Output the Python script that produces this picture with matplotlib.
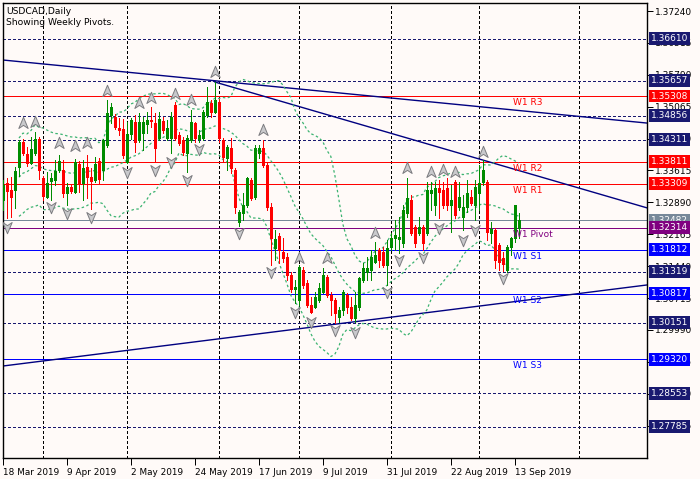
import numpy as np
import pandas as pd
import matplotlib
matplotlib.use("Agg")
import matplotlib.pyplot as plt
from matplotlib.path import Path

# ---------------- data (USDCAD daily) ----------------
opens = [1.32944, 1.33330, 1.33171, 1.33171, 1.33694, 1.34262, 1.33990, 1.33785, 1.34012, 1.34331,
         1.33444, 1.33012, 1.33376, 1.33399, 1.33626, 1.33626, 1.33103, 1.33240, 1.33126, 1.33762,
         1.33330, 1.33694, 1.33467, 1.33399, 1.33831, 1.33626, 1.34194, 1.34876, 1.34831, 1.34581,
         1.34558, 1.33808, 1.34444, 1.34717, 1.34308, 1.34467, 1.34672, 1.34762, 1.34694, 1.34353,
         1.34740, 1.34353, 1.34353, 1.35104, 1.34421, 1.34308, 1.34012, 1.34308, 1.34694, 1.34331,
         1.34353, 1.34876, 1.35149, 1.34944, 1.35172, 1.34308, 1.33899, 1.34126, 1.33626, 1.32444,
         1.32649, 1.32830, 1.33399, 1.33012, 1.34012, 1.34126, 1.33740, 1.32785, 1.31853, 1.32126,
         1.31762, 1.31648, 1.31239, 1.30921, 1.30671, 1.31353, 1.31057, 1.30557, 1.30512, 1.30671,
         1.30853, 1.31194, 1.30785, 1.30671, 1.30285, 1.30444, 1.30785, 1.30512, 1.30262, 1.30512,
         1.31126, 1.31307, 1.31353, 1.31535, 1.31808, 1.31762, 1.31467, 1.31876, 1.32080, 1.32058,
         1.31967, 1.32649, 1.32944, 1.32330, 1.32194, 1.32330, 1.32194, 1.33103, 1.32830, 1.33217,
         1.33171, 1.33217, 1.32830, 1.33353, 1.32785, 1.32558, 1.32785, 1.33012, 1.32830, 1.33103,
         1.33353, 1.33353, 1.32194, 1.32262, 1.31921, 1.31626, 1.31353, 1.31876, 1.32080, 1.32308]
highs = [1.33399, 1.33444, 1.33467, 1.33694, 1.34308, 1.34331, 1.34149, 1.34376, 1.34490, 1.34376,
         1.33490, 1.33580, 1.33558, 1.33853, 1.33967, 1.33853, 1.33330, 1.33308, 1.33876, 1.33831,
         1.33853, 1.33967, 1.33671, 1.33921, 1.33899, 1.34331, 1.35217, 1.35149, 1.34899, 1.34808,
         1.34785, 1.34717, 1.34808, 1.34876, 1.34922, 1.34831, 1.34944, 1.35058, 1.34922, 1.34944,
         1.34831, 1.34762, 1.34944, 1.35172, 1.34490, 1.34376, 1.34421, 1.34990, 1.34717, 1.34535,
         1.34990, 1.35513, 1.35217, 1.35626, 1.35240, 1.34353, 1.34194, 1.34353, 1.33671, 1.32717,
         1.33103, 1.33467, 1.33444, 1.34194, 1.34194, 1.34308, 1.33785, 1.32876, 1.32262, 1.32194,
         1.32080, 1.31739, 1.31307, 1.31126, 1.31467, 1.31421, 1.31126, 1.30739, 1.30853, 1.31057,
         1.31398, 1.31239, 1.30853, 1.30717, 1.30512, 1.30898, 1.30830, 1.30739, 1.30853, 1.31194,
         1.31512, 1.31648, 1.31808, 1.31989, 1.31853, 1.31876, 1.32035, 1.32194, 1.32489, 1.32558,
         1.32830, 1.33444, 1.33058, 1.32376, 1.32558, 1.32376, 1.33353, 1.33353, 1.33353, 1.33399,
         1.33353, 1.33444, 1.33285, 1.33399, 1.33353, 1.33058, 1.33399, 1.33171, 1.33399, 1.33740,
         1.33853, 1.33399, 1.32444, 1.32308, 1.31967, 1.31762, 1.31921, 1.32103, 1.32830, 1.32649]
lows = [1.32717, 1.32535, 1.32558, 1.32762, 1.33490, 1.33967, 1.33717, 1.33762, 1.33967, 1.33421,
        1.32944, 1.32990, 1.32944, 1.33285, 1.33580, 1.33012, 1.32830, 1.33103, 1.33103, 1.33126,
        1.32944, 1.32990, 1.32739, 1.33353, 1.33330, 1.33399, 1.34149, 1.34694, 1.34558, 1.34421,
        1.33899, 1.33785, 1.34331, 1.34035, 1.34262, 1.34081, 1.34467, 1.34603, 1.33808, 1.34308,
        1.34467, 1.34308, 1.34012, 1.34308, 1.34194, 1.33967, 1.33580, 1.34262, 1.34262, 1.34262,
        1.34308, 1.34831, 1.34831, 1.34922, 1.34262, 1.33808, 1.33626, 1.33558, 1.32649, 1.32353,
        1.32489, 1.32785, 1.32944, 1.32967, 1.33899, 1.33694, 1.32717, 1.31467, 1.31580, 1.31512,
        1.31535, 1.31126, 1.30853, 1.30603, 1.30557, 1.30944, 1.30512, 1.30376, 1.30489, 1.30626,
        1.30830, 1.30739, 1.30330, 1.30148, 1.30171, 1.30330, 1.30376, 1.30216, 1.30171, 1.30444,
        1.31080, 1.31126, 1.31126, 1.31512, 1.31421, 1.31421, 1.31012, 1.31808, 1.31808, 1.31739,
        1.31876, 1.32558, 1.32148, 1.31876, 1.32148, 1.31808, 1.32148, 1.32717, 1.32603, 1.32535,
        1.32762, 1.32717, 1.32217, 1.32535, 1.32717, 1.32262, 1.32671, 1.32830, 1.32489, 1.32717,
        1.33285, 1.32035, 1.31967, 1.31398, 1.31353, 1.31330, 1.31307, 1.31694, 1.31989, 1.32080]
closes = [1.33285, 1.33149, 1.33012, 1.33603, 1.34262, 1.34012, 1.33785, 1.34103, 1.34331, 1.33626,
          1.33035, 1.33330, 1.33444, 1.33603, 1.33831, 1.33103, 1.33240, 1.33149, 1.33808, 1.33308,
          1.33671, 1.33467, 1.33376, 1.33762, 1.33421, 1.34308, 1.34922, 1.35058, 1.34603, 1.34535,
          1.33967, 1.34444, 1.34762, 1.34262, 1.34717, 1.34717, 1.34762, 1.34740, 1.34126, 1.34785,
          1.34535, 1.34581, 1.34831, 1.34353, 1.34240, 1.34035, 1.34353, 1.34717, 1.34353, 1.34421,
          1.34944, 1.35172, 1.34944, 1.35217, 1.34353, 1.33921, 1.34149, 1.33671, 1.32785, 1.32671,
          1.32830, 1.33444, 1.32990, 1.34126, 1.34126, 1.33740, 1.32785, 1.32080, 1.32058, 1.31808,
          1.31626, 1.31239, 1.30921, 1.30967, 1.31421, 1.31012, 1.30557, 1.30398, 1.30739, 1.30944,
          1.31239, 1.30785, 1.30671, 1.30376, 1.30444, 1.30853, 1.30512, 1.30262, 1.30557, 1.31171,
          1.31398, 1.31398, 1.31648, 1.31694, 1.31580, 1.31467, 1.31853, 1.32080, 1.32148, 1.32103,
          1.32717, 1.32990, 1.32194, 1.31967, 1.32330, 1.31967, 1.33171, 1.33171, 1.33217, 1.33126,
          1.32830, 1.32830, 1.32944, 1.32603, 1.33012, 1.32785, 1.33103, 1.32876, 1.33240, 1.33330,
          1.33626, 1.32217, 1.32285, 1.31580, 1.31535, 1.31489, 1.31876, 1.32080, 1.32830, 1.32482]

date_tick_idx = [0, 16, 32, 48, 64, 80, 96, 112, 128]
date_tick_labels = ["18 Mar 2019", "9 Apr 2019", "2 May 2019", "24 May 2019", "17 Jun 2019",
                    "9 Jul 2019", "31 Jul 2019", "22 Aug 2019", "13 Sep 2019"]
month_grid_idx = [10, 31, 54, 74, 97, 119, 144]
price_ticks = [1.37240, 1.36515, 1.35790, 1.35065, 1.34340, 1.33615, 1.32890, 1.32165,
               1.31440, 1.30715, 1.29990, 1.29265, 1.28540, 1.27815]

dashed_levels = [1.36610, 1.35657, 1.34856, 1.34311, 1.31319, 1.30151, 1.28553, 1.27785]
res_levels = [1.35308, 1.33811, 1.33309]
res_names = ["W1 R3", "W1 R2", "W1 R1"]
pivot_level = 1.32314
pivot_name = "W1 Pivot"
sup_levels = [1.31812, 1.30817, 1.29320]
sup_names = ["W1 S1", "W1 S2", "W1 S3"]
bid_level = 1.32482

up_frac_idx = [5, 8, 14, 18, 21, 26, 34, 37, 43, 47, 53, 65, 74, 81, 93, 101, 107, 110, 113, 120]
up_frac_price = [1.34694, 1.34717, 1.34240, 1.34171, 1.34240, 1.35422, 1.35149, 1.35262, 1.35353,
                 1.35217, 1.35853, 1.34535, 1.31626, 1.31626, 1.32194, 1.33671, 1.33580, 1.33626,
                 1.33580, 1.34035]
dn_frac_idx = [1, 12, 16, 22, 31, 38, 42, 46, 49, 59, 67, 73, 77, 83, 88, 96, 99, 105, 109, 115, 118, 125]
dn_frac_price = [1.32330, 1.32785, 1.32649, 1.32558, 1.33580, 1.33626, 1.33808, 1.33399, 1.34103,
                 1.32194, 1.31307, 1.30398, 1.30171, 1.29989, 1.29944, 1.30853, 1.31580, 1.31648,
                 1.32308, 1.32035, 1.32262, 1.31171]

# trend lines: anchor points (bar index, price)
trend_upper1 = [(0, 1.36126), (161, 1.34694)]
trend_upper2 = [(53, 1.35626), (120, 1.33853)]
trend_lower = [(0, 1.29171), (161, 1.31012)]

# ---------------- styling ----------------
BG = "#fffaf8"
NAVY = "#191970"
RED = "#ff0000"
BLUE = "#0000ff"
GRAY = "#778899"
PURPLE = "#800080"
BULL = "#008c00"
BEAR = "#ff0000"
BAND = "#3cb371"
PX = 0.72  # one pixel in points

fig = plt.figure(figsize=(7.0, 4.79), dpi=100, facecolor=BG)
ax = fig.add_axes([3 / 700, 21 / 479, 644 / 700, 455 / 479])
ax.set_facecolor(BG)
ax.set_xlim(0.075, 161.1)
ax.set_ylim(1.27080, 1.37422)

o = np.array(opens); h = np.array(highs); l = np.array(lows); c = np.array(closes)
x = np.arange(len(o))

# vertical grid (dashed)
for gx in month_grid_idx:
    ax.axvline(gx, color="black", lw=PX, dashes=(2.2, 2.2), zorder=1, antialiased=False)

# horizontal user lines
for lv in dashed_levels:
    ax.axhline(lv, color=NAVY, lw=PX, dashes=(2.2, 2.2), zorder=1, antialiased=False)
for lv in res_levels:
    ax.axhline(lv, color=RED, lw=PX, zorder=1, antialiased=False)
for lv in sup_levels:
    ax.axhline(lv, color=BLUE, lw=PX, zorder=1, antialiased=False)
ax.axhline(pivot_level, color=PURPLE, lw=PX, zorder=1, antialiased=False)
ax.axhline(bid_level, color=GRAY, lw=PX, zorder=1, antialiased=False)

# trend lines
ax.axline(trend_upper1[0], trend_upper1[1], color="#000080", lw=1.0, zorder=1)
ax.axline(trend_lower[0], trend_lower[1], color="#000080", lw=1.0, zorder=1)
(x1, y1), (x2, y2) = trend_upper2
slope = (y2 - y1) / (x2 - x1)
ax.plot([x1, 170], [y1, y1 + slope * (170 - x1)], color="#000080", lw=1.0, zorder=1)

# Bollinger bands (20, 2) from closes
s = pd.Series(closes)
mid = s.rolling(20, min_periods=5).mean()
sd = s.rolling(20, min_periods=5).std(ddof=0)
for band in (mid, mid + 2 * sd, mid - 2 * sd):
    ax.plot(x, band, color=BAND, lw=0.9, dashes=(2, 2), zorder=2)

# candles: wicks 1 px, bodies 3 px
up = c >= o
colors = np.where(up, BULL, BEAR)
ax.vlines(x, l, h, colors=colors, lw=PX, zorder=3, antialiased=False)
body_lo = np.minimum(o, c)
body_hi = np.maximum(np.maximum(o, c), body_lo + 0.00008)
body = ax.vlines(x, body_lo, body_hi, colors=colors, lw=3 * PX, zorder=4, antialiased=False)
body.set_capstyle("butt")

# fractal arrows
up_path = Path([(0, 1), (0.75, -0.8), (0, -0.3), (-0.75, -0.8), (0, 1)],
               [Path.MOVETO, Path.LINETO, Path.LINETO, Path.LINETO, Path.CLOSEPOLY])
dn_path = Path([(0, -1), (0.75, 0.8), (0, 0.3), (-0.75, 0.8), (0, -1)],
               [Path.MOVETO, Path.LINETO, Path.LINETO, Path.LINETO, Path.CLOSEPOLY])
ax.plot(up_frac_idx, up_frac_price, ls="none", marker=up_path, ms=9,
        mfc="#c9c9cc", mec="#7c7c80", mew=0.7, zorder=5)
ax.plot(dn_frac_idx, dn_frac_price, ls="none", marker=dn_path, ms=9,
        mfc="#c9c9cc", mec="#7c7c80", mew=0.7, zorder=5)

# level names
label_x = 127.6
for lv, nm in zip(res_levels, res_names):
    ax.annotate(nm, xy=(label_x, lv), xytext=(0, -2), textcoords="offset pixels",
                ha="left", va="top", fontsize=6.5, color=RED, zorder=6)
ax.annotate(pivot_name, xy=(label_x, pivot_level), xytext=(0, -2), textcoords="offset pixels",
            ha="left", va="top", fontsize=6.5, color=PURPLE, zorder=6)
for lv, nm in zip(sup_levels, sup_names):
    ax.annotate(nm, xy=(label_x, lv), xytext=(0, -2), textcoords="offset pixels",
                ha="left", va="top", fontsize=6.5, color=BLUE, zorder=6)

# title text
ax.text(0.005, 0.992, "USDCAD,Daily", transform=ax.transAxes, ha="left", va="top",
        fontsize=6.6, color="black")
ax.text(0.005, 0.966, "Showing Weekly Pivots.", transform=ax.transAxes, ha="left", va="top",
        fontsize=6.6, color="black")

# axes / ticks
ax.yaxis.tick_right()
ax.set_yticks(price_ticks)
ax.set_yticklabels([f"{v:.5f}" for v in price_ticks])
ax.tick_params(axis="y", direction="out", length=4, width=PX, pad=2, labelsize=6.5, colors="black")
ax.set_xticks(date_tick_idx)
ax.set_xticklabels(date_tick_labels, ha="left")
ax.tick_params(axis="x", direction="out", length=5, width=PX, pad=2, labelsize=6.4)
for lab in ax.get_xticklabels():
    lab.set_horizontalalignment("left")
for sp in ax.spines.values():
    sp.set_color("black")
    sp.set_linewidth(1.0)

# price boxes on the right scale
box_items = ([(v, NAVY) for v in dashed_levels] + [(v, RED) for v in res_levels] +
             [(v, BLUE) for v in sup_levels] + [(bid_level, GRAY), (pivot_level, PURPLE)])
for v, col in box_items:
    ax.annotate(f"{v:.5f}", xy=(1, v), xycoords=("axes fraction", "data"),
                xytext=(4, 0), textcoords="offset pixels", ha="left", va="center",
                fontsize=6.5, color="white", annotation_clip=False, zorder=10,
                bbox=dict(boxstyle="square,pad=0.22", fc=col, ec="none"))

fig.savefig("out.png", dpi=100, facecolor=BG)
